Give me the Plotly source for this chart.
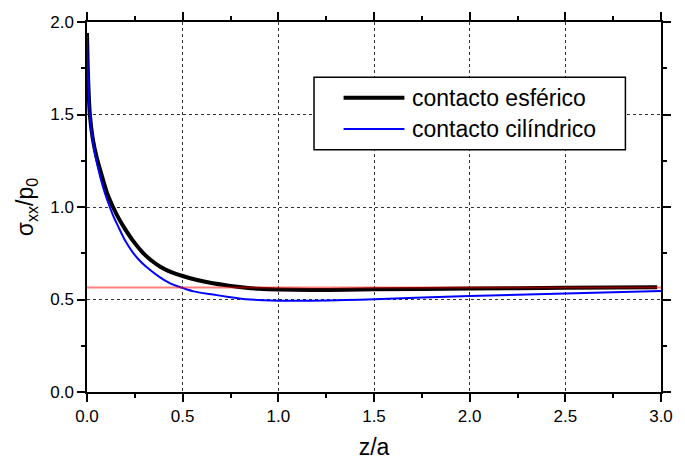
import plotly.graph_objects as go

# Spherical contact (black)
z_esf = [0.0, 0.004, 0.015, 0.03, 0.05, 0.08, 0.105, 0.136, 0.165, 0.196, 0.24, 0.29,
         0.335, 0.385, 0.44, 0.5, 0.57, 0.65, 0.74, 0.83, 0.9, 1.0, 1.17, 1.35, 1.5,
         2.0, 2.5, 2.98]
s_esf = [1.94, 1.75, 1.50, 1.37, 1.27, 1.16, 1.075, 1.0, 0.94, 0.886, 0.818, 0.755,
         0.712, 0.676, 0.648, 0.627, 0.607, 0.589, 0.575, 0.564, 0.558, 0.554, 0.551, 0.553, 0.555,
         0.559, 0.563, 0.566]

# Cylindrical contact (blue)
z_cil = [0.0, 0.004, 0.015, 0.03, 0.045, 0.07, 0.095, 0.119, 0.14, 0.167, 0.2, 0.239,
         0.27, 0.308, 0.376, 0.43, 0.488, 0.557, 0.65, 0.74, 0.83, 0.92, 1.0, 1.17, 1.35,
         1.5, 2.0, 2.5, 3.0]
s_cil = [1.93, 1.74, 1.49, 1.36, 1.27, 1.16, 1.07, 1.0, 0.945, 0.886, 0.817, 0.755,
         0.716, 0.678, 0.624, 0.59, 0.566, 0.544, 0.528, 0.514, 0.502, 0.496, 0.493, 0.493, 0.497,
         0.501, 0.519, 0.533, 0.546]

# Asymptotic reference (red)
z_ref = [0.0, 3.0]
s_ref = [0.565, 0.565]

x_ticks = [0.0, 0.5, 1.0, 1.5, 2.0, 2.5, 3.0]
y_ticks = [0.0, 0.5, 1.0, 1.5, 2.0]
x_minor = [0.25, 0.75, 1.25, 1.75, 2.25, 2.75]
y_minor = [0.25, 0.75, 1.25, 1.75]
legend_names = ["contacto esférico", "contacto cilíndrico"]

font_fam = "Arial, Liberation Sans, sans-serif"

fig = go.Figure()
fig.add_trace(go.Scatter(x=z_esf, y=s_esf, mode="lines", name=legend_names[0], showlegend=False,
                         line=dict(color="black", width=4, shape="spline", smoothing=0.5)))
fig.add_trace(go.Scatter(x=z_cil, y=s_cil, mode="lines", name=legend_names[1], showlegend=False,
                         line=dict(color="#0000ff", width=2, shape="spline", smoothing=0.5)))
fig.add_trace(go.Scatter(x=z_ref, y=s_ref, mode="lines", showlegend=False,
                         xaxis="x2", yaxis="y2",
                         line=dict(color="rgba(255,0,0,0.5)", width=2)))

axis_common = dict(
    showline=True, linecolor="black", linewidth=1.5, mirror="ticks",
    ticks="outside", ticklen=8, tickwidth=1.5, tickcolor="black",
    zeroline=False,
    tickfont=dict(family=font_fam, size=17, color="black"),
)
minor = dict(ticks="outside", ticklen=4, tickwidth=1.5, tickcolor="black", showgrid=False)

fig.update_layout(
    xaxis=dict(range=[0, 3.0], tickvals=x_ticks, ticktext=[f"{v:.1f}" for v in x_ticks],
               showgrid=True, gridcolor="#333333", gridwidth=1, griddash="dot",
               minor=dict(dtick=0.25, **minor),
               title=dict(text="z/a", font=dict(family=font_fam, size=23, color="black"), standoff=14),
               **axis_common),
    yaxis=dict(range=[0, 2.0], tickvals=y_ticks, ticktext=[f"{v:.1f}" for v in y_ticks],
               showgrid=True, gridcolor="#333333", gridwidth=1, griddash="dot",
               minor=dict(dtick=0.25, **minor),
               title=dict(text="σ<sub>xx</sub>/p<sub>0</sub>", font=dict(family=font_fam, size=23, color="black"), standoff=10),
               **axis_common),
    xaxis2=dict(range=[0, 3.0], overlaying="x", side="top", anchor="y",
                tickmode="array", tickvals=x_minor, ticktext=[""] * len(x_minor),
                showticklabels=True, showgrid=False, zeroline=False, showline=False,
                ticks="outside", ticklen=4, tickwidth=1.5, tickcolor="black"),
    yaxis2=dict(range=[0, 2.0], overlaying="y", side="right", anchor="x",
                tickmode="array", tickvals=y_minor, ticktext=[""] * len(y_minor),
                showticklabels=True, showgrid=False, zeroline=False, showline=False,
                ticks="outside", ticklen=4, tickwidth=1.5, tickcolor="black"),
)

# Legend (drawn as a framed key in paper coordinates)
lx0, lx1, ly0, ly1 = 0.3955, 0.938, 0.655, 0.851
sx0, sx1, tx = 0.447, 0.553, 0.563
rows = [0.795, 0.711]
styles = [dict(color="black", width=4), dict(color="#0000ff", width=2)]
fig.add_shape(type="rect", xref="paper", yref="paper", x0=lx0, x1=lx1, y0=ly0, y1=ly1,
              line=dict(color="black", width=1.5), fillcolor="white", layer="above")
for name, ry, st in zip(legend_names, rows, styles):
    fig.add_shape(type="line", xref="paper", yref="paper", x0=sx0, x1=sx1, y0=ry, y1=ry,
                  line=st, layer="above")
    fig.add_annotation(xref="paper", yref="paper", x=tx, y=ry, text=name, showarrow=False,
                       xanchor="left", yanchor="middle",
                       font=dict(family=font_fam, size=23, color="black"))

fig.update_layout(
    width=685, height=468,
    margin=dict(l=87, r=14, t=14, b=72),
    paper_bgcolor="white", plot_bgcolor="white",
    font=dict(family=font_fam, color="black"),
    showlegend=False,
)

fig.write_html("out.html")
